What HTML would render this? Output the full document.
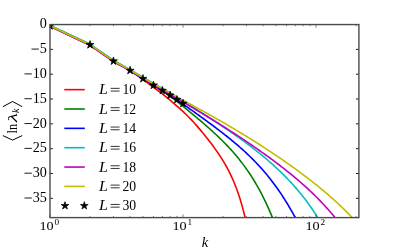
<!DOCTYPE html>
<html><head><meta charset="utf-8"><title>plot</title>
<style>html,body{margin:0;padding:0;background:#fff;}body{width:399px;height:249px;overflow:hidden;position:relative;font-family:"Liberation Serif",serif;}</style>
</head><body>
<svg width="399" height="249" viewBox="0 0 399 249" style="position:absolute;left:0;top:0;will-change:transform">
<defs><clipPath id="ax"><rect x="50.0" y="24.55" width="308.9" height="193.04999999999998"/></clipPath></defs>
<rect x="0" y="0" width="399" height="249" fill="#fff"/>
<g clip-path="url(#ax)" fill="none" stroke-width="1.6" stroke-linejoin="round" stroke-linecap="butt">
<path d="M50.00,26.20 L90.04,45.20 L113.46,61.40 L130.07,70.60 L142.96,79.40 L153.49,87.30 L162.40,93.90 L170.11,100.10 L176.91,106.10 L178.41,107.38 L179.91,108.69 L181.41,110.04 L182.91,111.41 L184.41,112.83 L185.91,114.27 L187.41,115.76 L188.91,117.28 L190.41,118.83 L191.91,120.42 L193.41,122.05 L194.91,123.71 L196.41,125.40 L197.91,127.11 L199.41,128.86 L200.91,130.64 L202.41,132.44 L203.91,134.27 L205.41,136.13 L206.91,138.01 L208.41,139.92 L209.91,141.86 L211.41,143.83 L212.91,145.84 L214.41,147.88 L215.91,149.97 L217.41,152.11 L218.91,154.31 L220.41,156.57 L221.91,158.91 L223.41,161.34 L224.91,163.87 L226.41,166.51 L227.91,169.28 L229.41,172.19 L230.91,175.28 L232.41,178.55 L233.91,182.03 L235.41,185.74 L236.91,189.72 L238.41,193.99 L239.91,198.59 L241.41,203.54 L242.91,208.89 L244.41,214.68 L245.91,220.93 L247.41,227.71" stroke="#ff0000"/>
<path d="M50.00,25.40 L90.04,44.30 L113.46,60.50 L130.07,70.00 L142.96,78.40 L153.49,85.20 L162.40,90.80 L170.11,96.10 L176.91,101.40 L178.41,102.58 L179.91,103.76 L181.41,104.96 L182.91,106.16 L184.41,107.37 L185.91,108.59 L187.41,109.82 L188.91,111.05 L190.41,112.29 L191.91,113.53 L193.41,114.78 L194.91,116.04 L196.41,117.30 L197.91,118.57 L199.41,119.85 L200.91,121.13 L202.41,122.43 L203.91,123.73 L205.41,125.04 L206.91,126.36 L208.41,127.68 L209.91,129.03 L211.41,130.38 L212.91,131.74 L214.41,133.12 L215.91,134.52 L217.41,135.93 L218.91,137.36 L220.41,138.81 L221.91,140.28 L223.41,141.78 L224.91,143.30 L226.41,144.84 L227.91,146.41 L229.41,148.01 L230.91,149.65 L232.41,151.31 L233.91,153.01 L235.41,154.75 L236.91,156.54 L238.41,158.36 L239.91,160.23 L241.41,162.14 L242.91,164.11 L244.41,166.13 L245.91,168.21 L247.41,170.34 L248.91,172.54 L250.41,174.80 L251.91,177.13 L253.41,179.52 L254.91,182.00 L256.41,184.55 L257.91,187.18 L259.41,189.89 L260.91,192.70 L262.41,195.59 L263.91,198.58 L265.41,201.67 L266.91,204.86 L268.41,208.16 L269.91,211.57 L271.41,215.09 L272.91,218.74 L274.41,222.50" stroke="#008000"/>
<path d="M50.00,26.00 L90.04,45.00 L113.46,61.20 L130.07,70.50 L142.96,78.80 L153.49,85.40 L162.40,90.60 L170.11,95.40 L176.91,100.00 L178.41,101.01 L179.91,102.02 L181.41,103.05 L182.91,104.07 L184.41,105.11 L185.91,106.15 L187.41,107.20 L188.91,108.25 L190.41,109.31 L191.91,110.37 L193.41,111.43 L194.91,112.50 L196.41,113.57 L197.91,114.65 L199.41,115.73 L200.91,116.81 L202.41,117.90 L203.91,118.99 L205.41,120.08 L206.91,121.18 L208.41,122.29 L209.91,123.40 L211.41,124.51 L212.91,125.63 L214.41,126.75 L215.91,127.88 L217.41,129.02 L218.91,130.16 L220.41,131.31 L221.91,132.47 L223.41,133.64 L224.91,134.82 L226.41,136.00 L227.91,137.20 L229.41,138.41 L230.91,139.63 L232.41,140.86 L233.91,142.11 L235.41,143.37 L236.91,144.64 L238.41,145.93 L239.91,147.24 L241.41,148.57 L242.91,149.91 L244.41,151.27 L245.91,152.66 L247.41,154.07 L248.91,155.49 L250.41,156.95 L251.91,158.43 L253.41,159.93 L254.91,161.46 L256.41,163.02 L257.91,164.61 L259.41,166.23 L260.91,167.89 L262.41,169.57 L263.91,171.29 L265.41,173.05 L266.91,174.85 L268.41,176.68 L269.91,178.55 L271.41,180.47 L272.91,182.43 L274.41,184.43 L275.91,186.48 L277.41,188.57 L278.91,190.72 L280.41,192.92 L281.91,195.16 L283.41,197.46 L284.91,199.82 L286.41,202.23 L287.91,204.70 L289.41,207.23 L290.91,209.83 L292.41,212.48 L293.91,215.20 L295.41,217.99 L296.91,220.84" stroke="#0000ff"/>
<path d="M50.00,25.40 L90.04,44.30 L113.46,60.50 L130.07,69.60 L142.96,77.25 L153.49,83.50 L162.40,88.40 L170.11,93.00 L176.91,97.40 L178.41,98.33 L179.91,99.27 L181.41,100.20 L182.91,101.13 L184.41,102.06 L185.91,102.99 L187.41,103.92 L188.91,104.85 L190.41,105.78 L191.91,106.71 L193.41,107.64 L194.91,108.58 L196.41,109.52 L197.91,110.46 L199.41,111.40 L200.91,112.34 L202.41,113.29 L203.91,114.24 L205.41,115.19 L206.91,116.15 L208.41,117.11 L209.91,118.08 L211.41,119.05 L212.91,120.02 L214.41,121.00 L215.91,121.98 L217.41,122.97 L218.91,123.96 L220.41,124.96 L221.91,125.96 L223.41,126.96 L224.91,127.98 L226.41,128.99 L227.91,130.02 L229.41,131.05 L230.91,132.08 L232.41,133.13 L233.91,134.17 L235.41,135.23 L236.91,136.29 L238.41,137.36 L239.91,138.44 L241.41,139.52 L242.91,140.61 L244.41,141.72 L245.91,142.82 L247.41,143.94 L248.91,145.07 L250.41,146.21 L251.91,147.35 L253.41,148.51 L254.91,149.68 L256.41,150.86 L257.91,152.05 L259.41,153.25 L260.91,154.46 L262.41,155.69 L263.91,156.93 L265.41,158.19 L266.91,159.46 L268.41,160.74 L269.91,162.04 L271.41,163.36 L272.91,164.70 L274.41,166.05 L275.91,167.42 L277.41,168.81 L278.91,170.23 L280.41,171.66 L281.91,173.12 L283.41,174.60 L284.91,176.10 L286.41,177.63 L287.91,179.19 L289.41,180.77 L290.91,182.38 L292.41,184.02 L293.91,185.69 L295.41,187.40 L296.91,189.13 L298.41,190.91 L299.91,192.72 L301.41,194.56 L302.91,196.45 L304.41,198.37 L305.91,200.34 L307.41,202.35 L308.91,204.41 L310.41,206.52 L311.91,208.67 L313.41,210.88 L314.91,213.13 L316.41,215.45 L317.91,217.82 L319.41,220.24" stroke="#00bfbf"/>
<path d="M50.00,26.30 L90.04,45.30 L113.46,61.50 L130.07,70.60 L142.96,78.40 L153.49,84.70 L162.40,89.60 L170.11,94.10 L176.91,98.25 L178.41,99.16 L179.91,100.07 L181.41,100.98 L182.91,101.88 L184.41,102.78 L185.91,103.68 L187.41,104.58 L188.91,105.48 L190.41,106.37 L191.91,107.27 L193.41,108.17 L194.91,109.06 L196.41,109.96 L197.91,110.86 L199.41,111.76 L200.91,112.66 L202.41,113.57 L203.91,114.47 L205.41,115.38 L206.91,116.29 L208.41,117.21 L209.91,118.12 L211.41,119.04 L212.91,119.96 L214.41,120.89 L215.91,121.82 L217.41,122.75 L218.91,123.68 L220.41,124.62 L221.91,125.57 L223.41,126.51 L224.91,127.46 L226.41,128.41 L227.91,129.37 L229.41,130.33 L230.91,131.30 L232.41,132.27 L233.91,133.24 L235.41,134.22 L236.91,135.20 L238.41,136.19 L239.91,137.18 L241.41,138.17 L242.91,139.17 L244.41,140.17 L245.91,141.18 L247.41,142.20 L248.91,143.21 L250.41,144.24 L251.91,145.26 L253.41,146.30 L254.91,147.33 L256.41,148.38 L257.91,149.43 L259.41,150.48 L260.91,151.54 L262.41,152.60 L263.91,153.68 L265.41,154.75 L266.91,155.84 L268.41,156.93 L269.91,158.02 L271.41,159.12 L272.91,160.23 L274.41,161.35 L275.91,162.48 L277.41,163.61 L278.91,164.75 L280.41,165.90 L281.91,167.06 L283.41,168.22 L284.91,169.40 L286.41,170.58 L287.91,171.78 L289.41,172.98 L290.91,174.20 L292.41,175.43 L293.91,176.67 L295.41,177.92 L296.91,179.18 L298.41,180.46 L299.91,181.75 L301.41,183.06 L302.91,184.38 L304.41,185.71 L305.91,187.07 L307.41,188.43 L308.91,189.82 L310.41,191.22 L311.91,192.65 L313.41,194.09 L314.91,195.55 L316.41,197.04 L317.91,198.54 L319.41,200.07 L320.91,201.62 L322.41,203.20 L323.91,204.81 L325.41,206.44 L326.91,208.09 L328.41,209.78 L329.91,211.50 L331.41,213.25 L332.91,215.02 L334.41,216.84 L335.91,218.69" stroke="#bf00bf"/>
<path d="M50.00,25.80 L90.04,44.70 L113.46,60.90 L130.07,70.00 L142.96,77.60 L153.49,83.80 L162.40,88.60 L170.11,92.90 L176.91,96.90 L178.41,97.71 L179.91,98.53 L181.41,99.34 L182.91,100.16 L184.41,100.97 L185.91,101.79 L187.41,102.60 L188.91,103.42 L190.41,104.23 L191.91,105.05 L193.41,105.87 L194.91,106.69 L196.41,107.51 L197.91,108.33 L199.41,109.15 L200.91,109.98 L202.41,110.80 L203.91,111.63 L205.41,112.46 L206.91,113.30 L208.41,114.13 L209.91,114.97 L211.41,115.81 L212.91,116.65 L214.41,117.50 L215.91,118.35 L217.41,119.20 L218.91,120.05 L220.41,120.91 L221.91,121.77 L223.41,122.64 L224.91,123.51 L226.41,124.38 L227.91,125.25 L229.41,126.13 L230.91,127.01 L232.41,127.90 L233.91,128.79 L235.41,129.68 L236.91,130.58 L238.41,131.48 L239.91,132.38 L241.41,133.29 L242.91,134.20 L244.41,135.12 L245.91,136.04 L247.41,136.96 L248.91,137.89 L250.41,138.83 L251.91,139.76 L253.41,140.70 L254.91,141.65 L256.41,142.60 L257.91,143.55 L259.41,144.51 L260.91,145.47 L262.41,146.44 L263.91,147.41 L265.41,148.39 L266.91,149.37 L268.41,150.35 L269.91,151.34 L271.41,152.34 L272.91,153.34 L274.41,154.34 L275.91,155.35 L277.41,156.36 L278.91,157.38 L280.41,158.41 L281.91,159.44 L283.41,160.47 L284.91,161.52 L286.41,162.56 L287.91,163.62 L289.41,164.67 L290.91,165.74 L292.41,166.81 L293.91,167.89 L295.41,168.97 L296.91,170.06 L298.41,171.16 L299.91,172.27 L301.41,173.38 L302.91,174.50 L304.41,175.62 L305.91,176.76 L307.41,177.90 L308.91,179.06 L310.41,180.22 L311.91,181.39 L313.41,182.57 L314.91,183.76 L316.41,184.96 L317.91,186.16 L319.41,187.39 L320.91,188.62 L322.41,189.86 L323.91,191.11 L325.41,192.38 L326.91,193.66 L328.41,194.95 L329.91,196.25 L331.41,197.57 L332.91,198.91 L334.41,200.26 L335.91,201.62 L337.41,203.00 L338.91,204.39 L340.41,205.81 L341.91,207.24 L343.41,208.69 L344.91,210.15 L346.41,211.64 L347.91,213.15 L349.41,214.67 L350.91,216.22 L352.41,217.79 L353.91,219.39" stroke="#bfbf00"/>
</g>
<g clip-path="url(#ax)" fill="#000" stroke="#000" stroke-width="0.7" stroke-linejoin="miter">
<polygon points="50.00,21.70 50.94,24.60 53.99,24.60 51.53,26.40 52.47,29.30 50.00,27.50 47.53,29.30 48.47,26.40 46.01,24.60 49.06,24.60"/>
<polygon points="90.04,40.60 90.98,43.50 94.03,43.50 91.56,45.30 92.51,48.20 90.04,46.40 87.57,48.20 88.51,45.30 86.04,43.50 89.09,43.50"/>
<polygon points="113.46,56.90 114.40,59.80 117.45,59.80 114.98,61.60 115.93,64.50 113.46,62.70 110.99,64.50 111.93,61.60 109.46,59.80 112.51,59.80"/>
<polygon points="130.07,66.30 131.02,69.20 134.07,69.20 131.60,71.00 132.54,73.90 130.07,72.10 127.61,73.90 128.55,71.00 126.08,69.20 129.13,69.20"/>
<polygon points="142.96,74.50 143.91,77.40 146.96,77.40 144.49,79.20 145.43,82.10 142.96,80.30 140.49,82.10 141.44,79.20 138.97,77.40 142.02,77.40"/>
<polygon points="153.49,81.10 154.44,84.00 157.49,84.00 155.02,85.80 155.96,88.70 153.49,86.90 151.03,88.70 151.97,85.80 149.50,84.00 152.55,84.00"/>
<polygon points="162.40,86.40 163.34,89.30 166.39,89.30 163.92,91.10 164.87,94.00 162.40,92.20 159.93,94.00 160.87,91.10 158.40,89.30 161.46,89.30"/>
<polygon points="170.11,91.10 171.05,94.00 174.11,94.00 171.64,95.80 172.58,98.70 170.11,96.90 167.64,98.70 168.59,95.80 166.12,94.00 169.17,94.00"/>
<polygon points="176.91,95.50 177.86,98.40 180.91,98.40 178.44,100.20 179.38,103.10 176.91,101.30 174.45,103.10 175.39,100.20 172.92,98.40 175.97,98.40"/>
<polygon points="183.00,99.30 183.94,102.20 186.99,102.20 184.53,104.00 185.47,106.90 183.00,105.10 180.53,106.90 181.47,104.00 179.01,102.20 182.06,102.20"/>
</g>
<path d="M50.00,217.6v-3.2 M50.00,24.55v3.2 M90.04,217.6v-1.7 M90.04,24.55v1.7 M113.46,217.6v-1.7 M113.46,24.55v1.7 M130.07,217.6v-1.7 M130.07,24.55v1.7 M142.96,217.6v-1.7 M142.96,24.55v1.7 M153.49,217.6v-1.7 M153.49,24.55v1.7 M162.40,217.6v-1.7 M162.40,24.55v1.7 M170.11,217.6v-1.7 M170.11,24.55v1.7 M176.91,217.6v-1.7 M176.91,24.55v1.7 M183.00,217.6v-3.2 M183.00,24.55v3.2 M223.04,217.6v-1.7 M223.04,24.55v1.7 M246.46,217.6v-1.7 M246.46,24.55v1.7 M263.07,217.6v-1.7 M263.07,24.55v1.7 M275.96,217.6v-1.7 M275.96,24.55v1.7 M286.49,217.6v-1.7 M286.49,24.55v1.7 M295.40,217.6v-1.7 M295.40,24.55v1.7 M303.11,217.6v-1.7 M303.11,24.55v1.7 M309.91,217.6v-1.7 M309.91,24.55v1.7 M316.00,217.6v-3.2 M316.00,24.55v3.2 M356.04,217.6v-1.7 M356.04,24.55v1.7" stroke="#333" stroke-width="0.6" fill="none"/>
<path d="M50.0,24.55h2.9 M358.9,24.55h-2.9 M50.0,49.38h2.9 M358.9,49.38h-2.9 M50.0,74.20h2.9 M358.9,74.20h-2.9 M50.0,99.02h2.9 M358.9,99.02h-2.9 M50.0,123.85h2.9 M358.9,123.85h-2.9 M50.0,148.68h2.9 M358.9,148.68h-2.9 M50.0,173.50h2.9 M358.9,173.50h-2.9 M50.0,198.33h2.9 M358.9,198.33h-2.9" stroke="#1a1a1a" stroke-width="1" fill="none"/>
<rect x="50.0" y="24.55" width="308.9" height="193.04999999999998" fill="none" stroke="#4a4a4a" stroke-width="1.4"/>
<g font-family="Liberation Serif, serif" font-size="14px" fill="#000">
<text transform="translate(46.8,28.25) scale(1.01,1)" text-anchor="end">0</text>
<text transform="translate(46.8,53.08) scale(1.01,1)" text-anchor="end">5</text>
<path d="M31.50,49.08H38.80" stroke="#000" stroke-width="0.9"/>
<text transform="translate(46.8,77.90) scale(1.01,1)" text-anchor="end">10</text>
<path d="M24.50,73.90H31.80" stroke="#000" stroke-width="0.9"/>
<text transform="translate(46.8,102.72) scale(1.01,1)" text-anchor="end">15</text>
<path d="M24.50,98.72H31.80" stroke="#000" stroke-width="0.9"/>
<text transform="translate(46.8,127.55) scale(1.01,1)" text-anchor="end">20</text>
<path d="M24.50,123.55H31.80" stroke="#000" stroke-width="0.9"/>
<text transform="translate(46.8,152.38) scale(1.01,1)" text-anchor="end">25</text>
<path d="M24.50,148.38H31.80" stroke="#000" stroke-width="0.9"/>
<text transform="translate(46.8,177.20) scale(1.01,1)" text-anchor="end">30</text>
<path d="M24.50,173.20H31.80" stroke="#000" stroke-width="0.9"/>
<text transform="translate(46.8,202.03) scale(1.01,1)" text-anchor="end">35</text>
<path d="M24.50,198.03H31.80" stroke="#000" stroke-width="0.9"/>
<text x="39.40" y="229.8" font-size="13px" textLength="14.2" lengthAdjust="spacingAndGlyphs">10</text><text x="54.50" y="225.3" font-size="9.2px">0</text>
<text x="172.40" y="229.8" font-size="13px" textLength="14.2" lengthAdjust="spacingAndGlyphs">10</text><text x="187.50" y="225.3" font-size="9.2px">1</text>
<text x="305.40" y="229.8" font-size="13px" textLength="14.2" lengthAdjust="spacingAndGlyphs">10</text><text x="320.50" y="225.3" font-size="9.2px">2</text>
</g>
<text x="204.9" y="246.5" font-family="Liberation Serif, serif" font-style="italic" font-size="14.5px" text-anchor="middle">k</text>
<g transform="translate(17,121) rotate(-90)" font-family="Liberation Serif, serif" fill="#000">
<path d="M-14.6,-14.1 L-19.1,-4.45 L-14.6,5.2 M14.3,-14.1 L19.5,-4.45 L14.3,5.2" stroke="#000" stroke-width="1" fill="none"/>
<text x="-12.5" y="0" font-size="13.6px" textLength="9.5" lengthAdjust="spacingAndGlyphs">ln</text>
<text x="-1.3" y="0" font-size="13px" font-style="italic" textLength="9.2" lengthAdjust="spacingAndGlyphs">λ</text>
<text x="7.9" y="1.5" font-size="10px" font-style="italic">k</text>
</g>
<g font-family="Liberation Serif, serif" font-size="14px" fill="#000">
<path d="M64.3,89.65H84.8" stroke="#ff0000" stroke-width="1.6"/>
<text y="94.25"><tspan x="99" font-style="italic" textLength="8.9" lengthAdjust="spacingAndGlyphs">L</tspan></text><path d="M110.6,88.35h9 M110.6,91.05h9" stroke="#000" stroke-width="0.8" fill="none"/><text x="122.5" y="94.25" textLength="13.7" lengthAdjust="spacingAndGlyphs">10</text>
<path d="M64.3,109.00H84.8" stroke="#008000" stroke-width="1.6"/>
<text y="113.60"><tspan x="99" font-style="italic" textLength="8.9" lengthAdjust="spacingAndGlyphs">L</tspan></text><path d="M110.6,107.70h9 M110.6,110.40h9" stroke="#000" stroke-width="0.8" fill="none"/><text x="122.5" y="113.60" textLength="13.7" lengthAdjust="spacingAndGlyphs">12</text>
<path d="M64.3,128.35H84.8" stroke="#0000ff" stroke-width="1.6"/>
<text y="132.95"><tspan x="99" font-style="italic" textLength="8.9" lengthAdjust="spacingAndGlyphs">L</tspan></text><path d="M110.6,127.05h9 M110.6,129.75h9" stroke="#000" stroke-width="0.8" fill="none"/><text x="122.5" y="132.95" textLength="13.7" lengthAdjust="spacingAndGlyphs">14</text>
<path d="M64.3,147.70H84.8" stroke="#00bfbf" stroke-width="1.6"/>
<text y="152.30"><tspan x="99" font-style="italic" textLength="8.9" lengthAdjust="spacingAndGlyphs">L</tspan></text><path d="M110.6,146.40h9 M110.6,149.10h9" stroke="#000" stroke-width="0.8" fill="none"/><text x="122.5" y="152.30" textLength="13.7" lengthAdjust="spacingAndGlyphs">16</text>
<path d="M64.3,167.05H84.8" stroke="#bf00bf" stroke-width="1.6"/>
<text y="171.65"><tspan x="99" font-style="italic" textLength="8.9" lengthAdjust="spacingAndGlyphs">L</tspan></text><path d="M110.6,165.75h9 M110.6,168.45h9" stroke="#000" stroke-width="0.8" fill="none"/><text x="122.5" y="171.65" textLength="13.7" lengthAdjust="spacingAndGlyphs">18</text>
<path d="M64.3,186.40H84.8" stroke="#bfbf00" stroke-width="1.6"/>
<text y="191.00"><tspan x="99" font-style="italic" textLength="8.9" lengthAdjust="spacingAndGlyphs">L</tspan></text><path d="M110.6,185.10h9 M110.6,187.80h9" stroke="#000" stroke-width="0.8" fill="none"/><text x="122.5" y="191.00" textLength="13.7" lengthAdjust="spacingAndGlyphs">20</text>
<g stroke="#000" stroke-width="0.7"><polygon points="65.00,201.65 65.92,204.48 68.90,204.48 66.49,206.23 67.41,209.07 65.00,207.32 62.59,209.07 63.51,206.23 61.10,204.48 64.08,204.48"/><polygon points="84.30,201.65 85.22,204.48 88.20,204.48 85.79,206.23 86.71,209.07 84.30,207.32 81.89,209.07 82.81,206.23 80.40,204.48 83.38,204.48"/></g>
<text y="210.35"><tspan x="99" font-style="italic" textLength="8.9" lengthAdjust="spacingAndGlyphs">L</tspan></text><path d="M110.6,204.45h9 M110.6,207.15h9" stroke="#000" stroke-width="0.8" fill="none"/><text x="122.5" y="210.35" textLength="13.7" lengthAdjust="spacingAndGlyphs">30</text>
</g>
</svg>
</body></html>
